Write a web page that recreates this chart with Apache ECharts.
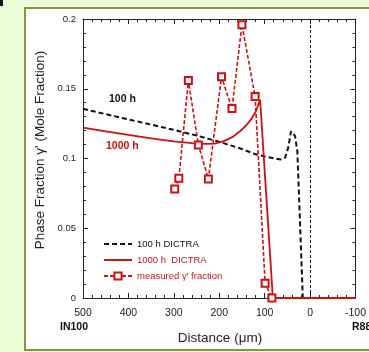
<!DOCTYPE html>
<html>
<head>
<meta charset="utf-8">
<title>Phase fraction profile</title>
<script src="https://cdn.jsdelivr.net/npm/echarts@6/dist/echarts.min.js"></script>
<style>
  html, body { margin: 0; padding: 0; background: #ecfcd6; overflow: hidden; }
  /* white slide panel with olive frame, open to the right */
  #panel {
    position: absolute; left: 24px; top: 7px; width: 1000px; height: 340px;
    background: #fff; border-left: 2.5px solid #7d9a3c; border-top: 2.5px solid #7d9a3c;
    border-bottom: 2.5px solid #7d9a3c;
  }
  #mark { position: absolute; left: 0; top: 0; width: 3px; height: 6px; background: #111; }
  #chart { position: absolute; left: 0; top: 0; width: 369px; height: 352px; }
</style>
</head>
<body>
<div id="panel"></div>
<div id="mark"></div>
<div id="chart"></div>
<script>
// distance (um) / phase fraction pairs
var dictra100h = [
  [500, 0.1356], [450, 0.1318], [400, 0.1280], [350, 0.1243], [300, 0.1205],
  [250, 0.1165], [200, 0.1120], [150, 0.1068], [120, 0.1030], [100, 0.1015],
  [80, 0.1002], [65, 0.0993], [55, 0.1005], [48, 0.1080], [42, 0.1195],
  [38, 0.1205], [33, 0.1160], [28, 0.1050], [16, 0], [-100, 0]
];
var dictra1000h = [
  [500, 0.1222], [450, 0.1195], [400, 0.1170], [350, 0.1145], [300, 0.1123],
  [260, 0.1110], [230, 0.1105], [210, 0.1107], [190, 0.1125], [170, 0.1155],
  [155, 0.1193], [140, 0.1240], [130, 0.1280], [120, 0.1335], [115, 0.1375],
  [110, 0.1420], [82, 0], [-100, 0]
];
var measured = [
  [298, 0.0781], [289, 0.0858], [268, 0.1559], [246, 0.1097], [224, 0.0853],
  [195, 0.1586], [172, 0.1358], [150, 0.1959], [121, 0.1444], [99, 0.0105],
  [84, 0]
];
var seriesNames = ['100 h DICTRA', '1000 h  DICTRA', "measured \u03b3' fraction"];

var RED = '#cc1111';
var FONT = 'Liberation Sans, Arial, sans-serif';

var chart = echarts.init(document.getElementById('chart'));

// shared axis look: ticks pointing into the plot, no grid lines
function frameAxis(extra) {
  var base = {
    type: 'value',
    axisLine: { show: true, onZero: false, lineStyle: { color: '#222', width: 1 } },
    axisTick: { show: true, inside: true, length: 5, lineStyle: { color: '#222' } },
    minorTick: { show: true, splitNumber: 5, length: 3, lineStyle: { color: '#222' } },
    splitLine: { show: false },
    axisLabel: { show: false }
  };
  return Object.assign(base, extra);
}

chart.setOption({
  backgroundColor: 'transparent',
  animation: false,
  textStyle: { fontFamily: FONT },
  grid: { left: 83, right: 12, top: 19, bottom: 54 },
  xAxis: [
    frameAxis({
      position: 'bottom', min: -100, max: 500, interval: 100, inverse: true,
      axisLabel: { show: true, fontSize: 10.5, color: '#222', margin: 10, fontFamily: FONT }
    }),
    frameAxis({ position: 'top', min: -100, max: 500, interval: 100, inverse: true })
  ],
  yAxis: [
    frameAxis({
      position: 'left', min: 0, max: 0.2, interval: 0.05,
      axisLabel: { show: true, fontSize: 9.5, color: '#222', margin: 7, fontFamily: FONT }
    }),
    frameAxis({ position: 'right', min: 0, max: 0.2, interval: 0.05 })
  ],
  legend: {
    orient: 'vertical',
    left: 98,
    top: 234,
    itemWidth: 28,
    itemHeight: 9,
    itemGap: 6,
    textStyle: { fontSize: 9.5, fontFamily: FONT },
    data: [
      // line-only entries: hide the dot the legend adds for symbol-less lines
      { name: seriesNames[0], itemStyle: { opacity: 0 }, textStyle: { color: '#111' } },
      { name: seriesNames[1], itemStyle: { opacity: 0 }, textStyle: { color: RED } },
      { name: seriesNames[2], textStyle: { color: RED } }
    ]
  },
  graphic: [
    { type: 'text', left: 109, top: 94,
      style: { text: '100 h', font: 'bold 10.5px ' + FONT, fill: '#111' } },
    { type: 'text', left: 106, top: 141,
      style: { text: '1000 h', font: 'bold 10.5px ' + FONT, fill: RED } },
    { type: 'text', left: 60, top: 322,
      style: { text: 'IN100', font: 'bold 10.5px ' + FONT, fill: '#111' } },
    { type: 'text', x: 352, y: 322,
      style: { text: 'R88DT', font: 'bold 10.5px ' + FONT, fill: '#111' } },
    { type: 'text', x: 220, y: 338,
      style: { text: 'Distance (\u03bcm)', font: '13.5px ' + FONT, fill: '#222',
        textAlign: 'center', textVerticalAlign: 'middle' } },
    { type: 'text', x: 40, y: 150, rotation: Math.PI / 2,
      style: { text: "Phase Fraction \u03b3' (Mole Fraction)", font: '13.5px ' + FONT, fill: '#222',
        textAlign: 'center', textVerticalAlign: 'middle' } }
  ],
  series: [
    {
      name: seriesNames[0],
      type: 'line',
      data: dictra100h,
      symbol: 'none',
      itemStyle: { color: '#111' },
      lineStyle: { color: '#111', width: 2, type: [5, 3] },
      // dashed divider at the interface (x = 0)
      markLine: {
        silent: true,
        symbol: 'none',
        label: { show: false },
        lineStyle: { color: '#111', width: 1, type: [3, 2] },
        data: [{ xAxis: 0 }]
      }
    },
    {
      name: seriesNames[1],
      type: 'line',
      data: dictra1000h,
      symbol: 'none',
      itemStyle: { color: RED },
      lineStyle: { color: RED, width: 1.8 }
    },
    {
      name: seriesNames[2],
      type: 'line',
      data: measured,
      symbol: 'emptyRect',
      symbolSize: 7,
      itemStyle: { color: RED, borderColor: RED, borderWidth: 1 },
      lineStyle: { color: RED, width: 1.6, type: [4, 2] }
    }
  ]
});
</script>
</body>
</html>
